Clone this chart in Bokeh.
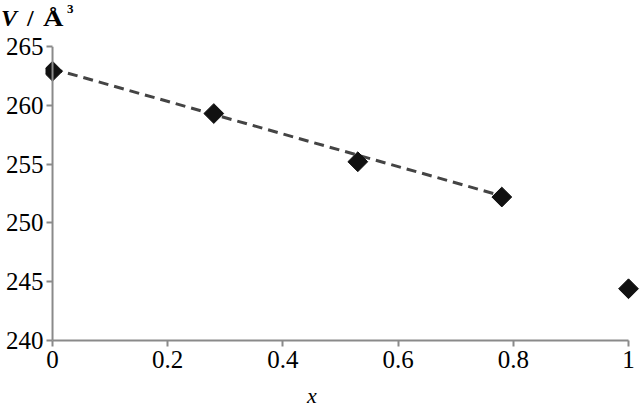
import math
from bokeh.plotting import figure
from bokeh.models import FixedTicker, Range1d, Div, Span
from bokeh.layouts import column
from bokeh.embed import file_html
from bokeh.resources import INLINE

# data
x_vals = [0.0, 0.28, 0.53, 0.78, 1.0]
v_vals = [262.9, 259.3, 255.2, 252.2, 244.4]
fit_x = [0.0, 0.78]
fit_v = [263.1, 252.3]
x_ticks = [0, 0.2, 0.4, 0.6, 0.8, 1]
y_ticks = [240, 245, 250, 255, 260, 265]
y_title = "<i>V</i><span style='margin-left:10px'>/</span>" \
          "<span style='margin-left:9px; display:inline-block; transform:scaleX(1.18); transform-origin:left'>Å</span>" \
          "<span style='font-size:13px; vertical-align:13px; line-height:0; margin-left:7px'>3</span>"
x_title = "<i>x</i>"

FONT = "Liberation Serif"
AXIS_COLOR = "#8a8a8a"

title = Div(text=y_title, width=200, height=30, margin=(0, 0, 0, 0),
            styles={"font-family": FONT, "font-size": "24px", "font-weight": "bold",
                    "color": "black", "line-height": "36px", "padding-left": "1px"})

p = figure(width=640, height=355, output_backend="svg", toolbar_location=None,
           x_range=Range1d(-0.0122, 1.0208), y_range=Range1d(240, 265),
           min_border_left=45, min_border_right=0, min_border_top=16, min_border_bottom=45,
           margin=(0, 0, 0, 0))
p.outline_line_color = None
p.xgrid.visible = False
p.ygrid.visible = False

for ax in (p.xaxis[0], p.yaxis[0]):
    ax.axis_line_color = AXIS_COLOR
    ax.axis_line_width = 2
    ax.major_tick_line_color = AXIS_COLOR
    ax.major_tick_line_width = 2
    ax.minor_tick_line_color = None
    ax.major_label_text_font = FONT
    ax.major_label_text_font_size = "25px"
    ax.major_label_text_color = "black"

p.xaxis[0].ticker = FixedTicker(ticks=x_ticks)
p.yaxis[0].ticker = FixedTicker(ticks=y_ticks)
p.xaxis[0].bounds = (0, 1)
p.xaxis[0].major_tick_out = 6
p.xaxis[0].major_tick_in = 0
p.xaxis[0].major_label_standoff = 4

# y axis sits at the frame edge; its line is drawn at x = 0 by a span,
# and its ticks reach inwards to x = 0
p.yaxis[0].axis_line_color = None
p.yaxis[0].major_tick_out = -1
p.yaxis[0].major_tick_in = 7
p.yaxis[0].major_label_standoff = 2
p.add_layout(Span(location=0, dimension="height", line_color=AXIS_COLOR, line_width=2))

p.line(fit_x, fit_v, line_color="#444444", line_width=3, line_dash="10 6")
p.scatter(x_vals, v_vals, marker="square", size=14, angle=math.pi / 4,
          fill_color="#111111", line_color="#111111")

xlab = Div(text=x_title, width=640, height=21, margin=(0, 0, 0, 0),
           styles={"font-family": FONT, "font-size": "22px", "color": "black",
                   "line-height": "21px", "padding-left": "307px"})

layout = column(title, p, xlab, spacing=0, margin=(0, 0, 0, 0))
open("out.html", "w").write(file_html(layout, INLINE))
